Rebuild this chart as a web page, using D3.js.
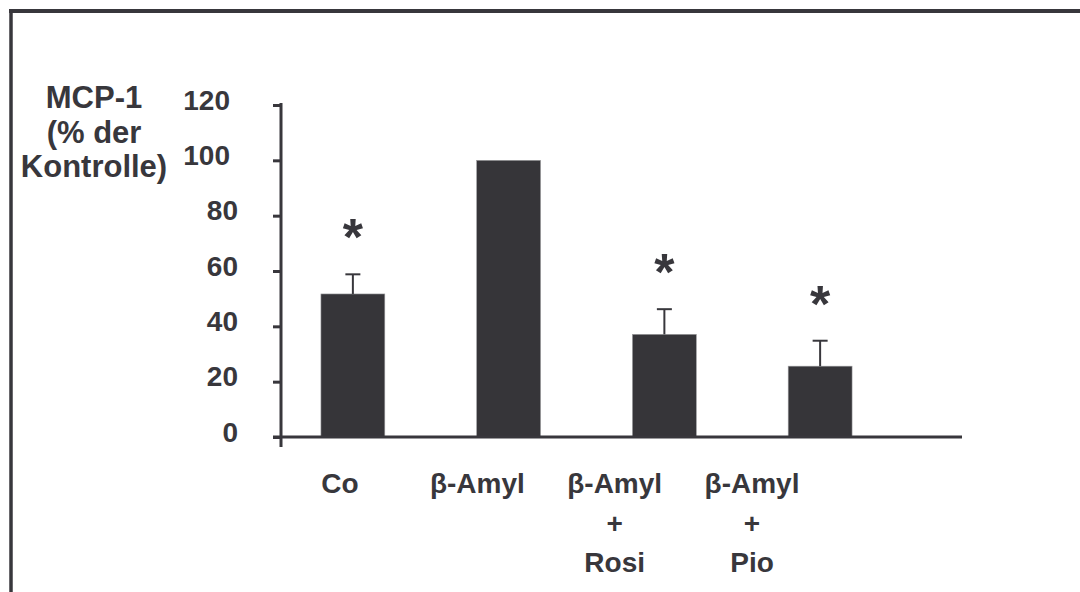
<!DOCTYPE html>
<html>
<head>
<meta charset="utf-8">
<script src="https://cdn.jsdelivr.net/npm/d3@7"></script>
<style>
  body { margin: 0; background: #fff; }
  svg { display: block; }
  text { font-family: "Liberation Sans", Arial, sans-serif; font-weight: bold; fill: #38373c; }
</style>
</head>
<body>
<div id="barChart"></div>
<script>
// data
var categories = ["Co", "β-Amyl", "β-Amyl + Rosi", "β-Amyl + Pio"];
var labelLines = [["Co"], ["β-Amyl"], ["β-Amyl", "+", "Rosi"], ["β-Amyl", "+", "Pio"]];
var means = [51.7, 100, 37.1, 25.6];
var errors = [7.1, 0, 9.1, 9.2];
var significant = [true, false, true, true];
var yTicks = [0, 20, 40, 60, 80, 100, 120];
var yTitle = ["MCP-1", "(% der", "Kontrolle)"];

var width = 1080;
var height = 592;
var ink = "#38373c";

var svg = d3
  .select("div#barChart")
  .append("svg")
  .attr("width", width)
  .attr("height", height);

// frame round the figure (top and left edges are visible)
svg.append("line")
  .attr("x1", 9).attr("x2", width).attr("y1", 11).attr("y2", 11)
  .attr("stroke", ink).attr("stroke-width", 4);
svg.append("line")
  .attr("x1", 11).attr("x2", 11).attr("y1", 9).attr("y2", height)
  .attr("stroke", ink).attr("stroke-width", 3.5);

var axisX = 281;

var y = d3.scaleLinear().domain([0, 120]).range([437, 105]);

var x = d3
  .scaleBand()
  .domain(categories)
  .range([275, 898])
  .paddingInner(0.59)
  .paddingOuter(0.295);

// labels sit on their own spacing, not under the bars
var xLabel = d3.scalePoint().domain(categories).range([340, 752]);

// bars
svg.append("g")
  .attr("class", "bars")
  .selectAll("rect")
  .data(categories)
  .join("rect")
  .attr("x", (d) => x(d))
  .attr("y", (d, i) => y(means[i]))
  .attr("width", x.bandwidth())
  .attr("height", (d, i) => y(0) - y(means[i]))
  .attr("fill", "#363539")
  .attr("stroke", "#9a9a9c")
  .attr("stroke-width", 0.6);

// error bars (upper half only)
var err = svg.append("g").attr("class", "errors")
  .selectAll("g")
  .data(categories.filter((d, i) => errors[i] > 0))
  .join("g");
err.append("line")
  .attr("x1", (d) => x(d) + x.bandwidth() / 2)
  .attr("x2", (d) => x(d) + x.bandwidth() / 2)
  .attr("y1", (d) => y(means[categories.indexOf(d)]))
  .attr("y2", (d) => y(means[categories.indexOf(d)] + errors[categories.indexOf(d)]))
  .attr("stroke", ink).attr("stroke-width", 2);
err.append("line")
  .attr("x1", (d) => x(d) + x.bandwidth() / 2 - 7.5)
  .attr("x2", (d) => x(d) + x.bandwidth() / 2 + 7.5)
  .attr("y1", (d) => y(means[categories.indexOf(d)] + errors[categories.indexOf(d)]))
  .attr("y2", (d) => y(means[categories.indexOf(d)] + errors[categories.indexOf(d)]))
  .attr("stroke", ink).attr("stroke-width", 2);

// significance stars
var starSize = 52;
svg.append("g").attr("class", "stars")
  .selectAll("text")
  .data(categories.filter((d, i) => significant[i]))
  .join("text")
  .attr("x", (d) => x(d) + x.bandwidth() / 2)
  .attr("y", function (d) {
    var i = categories.indexOf(d);
    return y(means[i] + errors[i]) - 48 + starSize * 0.56;
  })
  .attr("text-anchor", "middle")
  .style("font-size", starSize + "px")
  .text("*");

// y axis
function yAxis(g) {
  g.attr("transform", `translate(${axisX}, 0)`)
    .call(d3.axisLeft(y).tickValues(yTicks).tickSize(8).tickPadding(35))
    .call((g) => g.select(".domain").remove());
  g.selectAll(".tick line").attr("stroke", ink).attr("stroke-width", 3);
  g.selectAll(".tick text")
    .attr("fill", ink)
    .attr("dy", "0.15em")
    .attr("dx", (d) => (d >= 100 ? -8 : 0))
    .style("font-size", "28px")
    .style("font-family", '"Liberation Sans", Arial, sans-serif');
}
svg.append("g").attr("class", "yAxis").call(yAxis);

svg.append("line")
  .attr("x1", axisX).attr("x2", axisX)
  .attr("y1", y(120) - 2).attr("y2", y(0) + 10)
  .attr("stroke", ink).attr("stroke-width", 3);

// x axis baseline
svg.append("line")
  .attr("x1", axisX - 8).attr("x2", 962)
  .attr("y1", y(0)).attr("y2", y(0))
  .attr("stroke", ink).attr("stroke-width", 3);

// category labels
svg.append("g").attr("class", "xLabels")
  .selectAll("text")
  .data(categories)
  .join("text")
  .attr("text-anchor", "middle")
  .attr("x", (d) => xLabel(d))
  .attr("y", 493)
  .style("font-size", "28px")
  .selectAll("tspan")
  .data((d, i) => labelLines[i])
  .join("tspan")
  .attr("x", function () { return d3.select(this.parentNode).attr("x"); })
  .attr("dy", (d, i) => (i === 0 ? 0 : 39.5))
  .text((d) => d);

// y title
svg.append("text")
  .attr("text-anchor", "middle")
  .attr("x", 94)
  .attr("y", 108)
  .style("font-size", "31px")
  .selectAll("tspan")
  .data(yTitle)
  .join("tspan")
  .attr("x", 94)
  .attr("dy", (d, i) => (i === 0 ? 0 : 34.5))
  .text((d) => d);
</script>
</body>
</html>
